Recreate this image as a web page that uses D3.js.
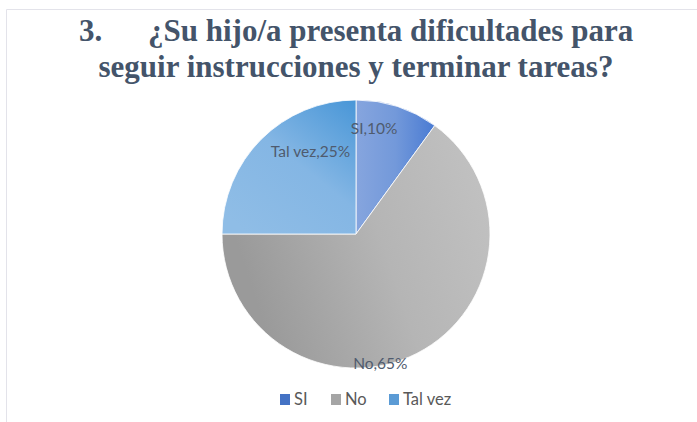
<!DOCTYPE html>
<html><head><meta charset="utf-8">
<script src="https://cdn.jsdelivr.net/npm/d3@7"></script>
<style>
html,body{margin:0;padding:0;background:#fff;}
svg{display:block;}
.ttl{font-family:"Liberation Serif","Times New Roman","DejaVu Serif",serif;font-weight:bold;}
.sans{font-family:"Lato","Open Sans",sans-serif;}
</style></head>
<body>
<svg id="chart" width="697" height="422"></svg>
<script>
const categories = ["SI", "No", "Tal vez"];
const values = [10, 65, 25];
const labelTexts = ["SI,10%", "No,65%", "Tal vez,25%"];
const titleLines = ["¿Su hijo/a presenta dificultades para", "seguir instrucciones y terminar tareas?"];
const titleNumber = "3.";

const W = 697, H = 422;
const svg = d3.select("#chart");
const defs = svg.append("defs");

// frame
svg.append("path")
  .attr("d", `M6.5,${H} V9.5 H${W}`)
  .attr("fill", "none").attr("stroke", "#e3e3ea").attr("stroke-width", 1);

// title
const titleColor = "#44546a";
const t = svg.append("text").attr("class", "ttl")
  .attr("font-size", 31).attr("fill", titleColor);
t.append("tspan").attr("x", 79).attr("y", 41).text(titleNumber);
t.append("tspan").attr("x", 148).attr("y", 41).text(titleLines[0]);
svg.append("text").attr("class", "ttl")
  .attr("font-size", 31).attr("fill", titleColor)
  .attr("text-anchor", "middle").attr("x", 356).attr("y", 77).text(titleLines[1]);

// gradients
const grads = [
  {id: "g0", x1: 0, y1: 0, x2: 1, y2: 0, stops: ["#86a5de", "#7399da", "#4a7bd3"]},
  {id: "g1", x1: 0, y1: 0.3, x2: 1, y2: 0, stops: ["#9a9a9a", "#b5b5b5", "#c3c3c3"]},
  {id: "g2", x1: 0.2, y1: 1, x2: 1, y2: 0, stops: ["#8fbde6", "#84b6e4", "#4896d7"]}
];
grads.forEach(g => {
  const lg = defs.append("linearGradient").attr("id", g.id)
    .attr("x1", g.x1).attr("y1", g.y1).attr("x2", g.x2).attr("y2", g.y2);
  g.stops.forEach((c, i) => lg.append("stop").attr("offset", i / (g.stops.length - 1)).attr("stop-color", c));
});
const legendColors = ["#4472c4", "#a5a5a5", "#5b9bd5"];

const cx = 356, cy = 234, R = 134;
const pie = d3.pie().sort(null).value(d => d)(values);
const arc = d3.arc().innerRadius(0).outerRadius(R);
const g = svg.append("g").attr("transform", `translate(${cx},${cy})`);
g.selectAll("path").data(pie).join("path")
  .attr("d", arc)
  .attr("fill", (d, i) => `url(#g${i})`)
  .attr("stroke", "#ffffff").attr("stroke-width", 0.8);

// labels (placement: fraction along slice angle, radius factor)
const labelPlace = [[0.27, 0.80], [0.57, 0.985], [0.68, 0.705]];
g.selectAll("text.lab").data(pie).join("text")
  .attr("class", "lab sans")
  .attr("transform", (d, i) => {
    const a = d.startAngle + labelPlace[i][0] * (d.endAngle - d.startAngle);
    const r = R * labelPlace[i][1];
    return `translate(${r * Math.sin(a)},${-r * Math.cos(a)})`;
  })
  .attr("text-anchor", "middle").attr("dy", "0.35em")
  .attr("font-size", 15.5)
  .attr("fill", "#4f5b6e")
  .text((d, i) => labelTexts[i]);

// legend
const legendX = [280, 331, 389];
const lg = svg.append("g");
categories.forEach((c, i) => {
  lg.append("rect").attr("x", legendX[i]).attr("y", 394).attr("width", 10).attr("height", 11)
    .attr("fill", legendColors[i]);
  lg.append("text").attr("class", "sans").attr("x", legendX[i] + 14).attr("y", 405)
    .attr("font-size", 16.5)
    .attr("fill", "#595959").text(c);
});
</script>
</body></html>
